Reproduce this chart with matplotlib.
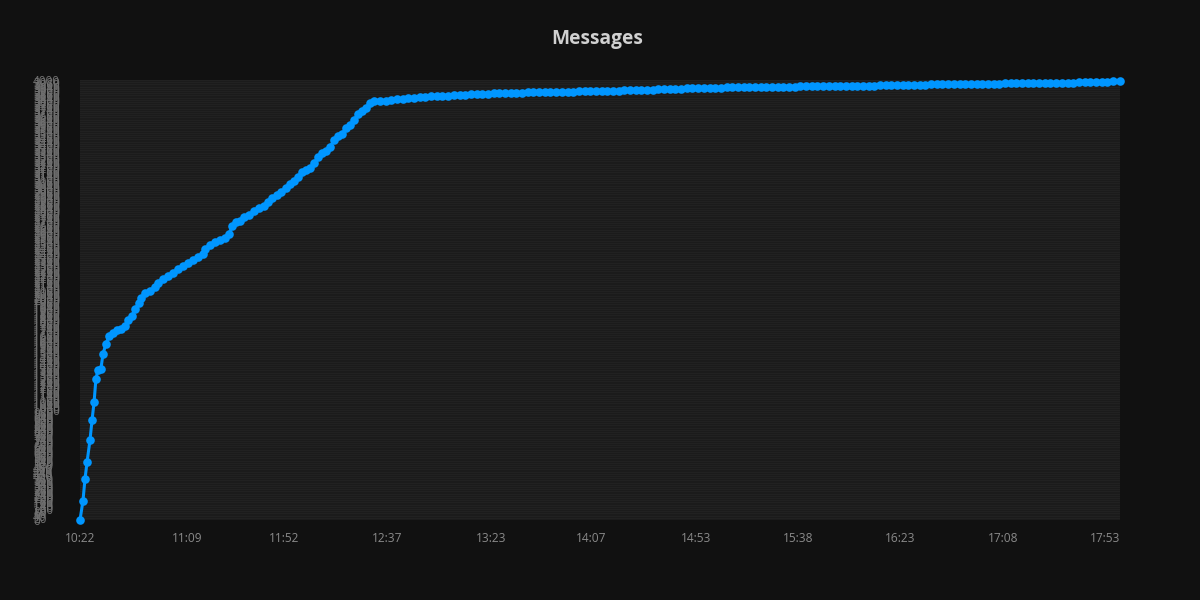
import matplotlib
matplotlib.use("Agg")
import matplotlib.pyplot as plt
import numpy as np

# elapsed minutes since 10:22 and cumulative message count
minutes = [
    0.0, 1.3, 2.2, 3.1, 4.4, 5.3, 6.2, 7.0, 7.9, 9.2, 10.1, 11.4, 12.8, 14.5, 16.3,
    18.0, 19.8, 21.1, 22.9, 24.2, 26.0, 26.8, 28.6, 30.8, 33.0, 34.3, 36.5, 38.7,
    40.9, 43.1, 45.3, 47.5, 49.7, 51.9, 54.1, 55.0, 57.2, 59.4, 61.6, 63.8, 65.6,
    66.9, 68.6, 70.4, 72.2, 74.4, 76.6, 78.8, 81.0, 82.7, 84.5, 86.7, 88.4, 90.6,
    92.4, 94.2, 95.9, 97.7, 99.4, 101.2, 103.0, 104.7, 106.5, 108.2, 110.0, 111.8,
    113.5, 115.3, 117.0, 118.8, 120.6, 122.3, 124.1, 125.8, 127.6, 129.4,
    132.0, 134.5, 137.0, 139.5, 142.0, 144.5, 147.0, 149.5, 152.0, 154.5, 157.0,
    159.5, 162.0, 164.5, 167.0, 169.5, 172.0, 174.5, 177.0, 179.5, 182.0, 184.5,
    187.0, 189.5, 192.0, 194.5, 197.0, 199.5, 202.0, 204.5, 207.0, 209.5, 212.0,
    214.5, 217.0, 219.5, 222.0, 224.5, 227.0, 229.5, 232.0, 234.5, 237.0, 239.5,
    242.0, 244.5, 247.0, 249.5, 252.0, 254.5, 257.0, 259.5, 262.0, 264.5, 267.0,
    269.5, 272.0, 274.5, 277.0, 279.5, 282.0, 284.5, 287.0, 289.5, 292.0, 294.5,
    297.0, 299.5, 302.0, 304.5, 307.0, 309.5, 312.0, 314.5, 317.0, 319.5, 322.0,
    324.5, 327.0, 329.5, 332.0, 334.5, 337.0, 339.5, 342.0, 344.5, 347.0, 349.5,
    352.0, 354.5, 357.0, 359.5, 362.0, 364.5, 367.0, 369.5, 372.0, 374.5, 377.0,
    379.5, 382.0, 384.5, 387.0, 389.5, 392.0, 394.5, 397.0, 399.5, 402.0, 404.5,
    407.0, 409.5, 412.0, 414.5, 417.0, 419.5, 422.0, 424.5, 427.0, 429.5, 432.0,
    434.5, 437.0, 439.5, 442.0, 444.5, 447.0, 449.5, 452.0, 454.5, 457.5,
]
messages = [
    0, 173, 373, 527, 727, 909, 1073, 1282, 1364, 1373, 1509, 1600, 1673, 1700, 1727,
    1736, 1764, 1818, 1855, 1918, 1973, 2018, 2064, 2082, 2118, 2155, 2191, 2218,
    2245, 2282, 2309, 2336, 2364, 2391, 2418, 2464, 2500, 2527, 2545, 2564, 2600,
    2673, 2709, 2718, 2755, 2773, 2809, 2836, 2855, 2891, 2927, 2955, 2982, 3018,
    3055, 3082, 3118, 3164, 3182, 3200, 3245, 3300, 3336, 3355, 3391, 3455,
    3491, 3509, 3564, 3591, 3636, 3691, 3718, 3745, 3791, 3809,
    3809, 3813, 3818, 3825, 3828, 3833, 3839, 3845, 3848, 3851, 3854,
    3856, 3859, 3861, 3864, 3866, 3869, 3872, 3874, 3877, 3879, 3882,
    3883, 3884, 3885, 3886, 3887, 3888, 3889, 3890, 3891, 3892, 3893,
    3894, 3895, 3896, 3897, 3898, 3899, 3900, 3902, 3903, 3904, 3906,
    3907, 3908, 3909, 3911, 3913, 3914, 3916, 3918, 3920, 3921, 3923,
    3925, 3927, 3928, 3929, 3930, 3931, 3932, 3933, 3934, 3935, 3936,
    3936, 3937, 3937, 3938, 3938, 3939, 3940, 3940, 3941, 3941, 3942,
    3942, 3943, 3943, 3944, 3944, 3945, 3945, 3946, 3947, 3949, 3950,
    3951, 3952, 3953, 3954, 3955, 3956, 3957, 3958, 3959, 3960, 3961,
    3962, 3964, 3964, 3965, 3965, 3966, 3966, 3967, 3967, 3968, 3968,
    3969, 3969, 3970, 3970, 3971, 3971, 3972, 3972, 3973, 3974, 3975,
    3976, 3977, 3978, 3979, 3980, 3981, 3982, 3984, 3987, 3991,
]

tick_labels = ["10:22", "11:09", "11:52", "12:37", "13:23", "14:07",
               "14:53", "15:38", "16:23", "17:08", "17:53"]
start_label = "10:22"
x_max = 457.6
y_max = 4000
y_tick_step = 20


def to_minutes(label):
    h, m = label.split(":")
    return int(h) * 60 + int(m)


tick_pos = [to_minutes(t) - to_minutes(start_label) for t in tick_labels]

BG = "#111111"
PLOT_BG = "#1b1b1b"
GRID = "#232323"
LINE = "#0096ff"

fig = plt.figure(figsize=(12, 6), dpi=100, facecolor=BG)
ax = fig.add_axes([80 / 1200, 80 / 600, 1040 / 1200, 440 / 600], facecolor=PLOT_BG)

yticks = np.arange(0, y_max + 1, y_tick_step)
ax.set_yticks(yticks)
ax.set_yticklabels([str(int(v)) for v in yticks])
ax.set_ylim(0, y_max)
ax.set_xlim(0, x_max)
ax.set_xticks(tick_pos)
ax.set_xticklabels(tick_labels)

ax.grid(axis="y", color=GRID, linewidth=0.6)
ax.set_axisbelow(True)
for s in ax.spines.values():
    s.set_visible(False)

ax.tick_params(axis="x", length=0, pad=9, labelsize=8.6, labelcolor="#8a8a8a")
ax.tick_params(axis="y", length=0, pad=33.8, labelsize=8.4, labelcolor="#707070")
for lab in ax.get_xticklabels() + ax.get_yticklabels():
    lab.set_fontfamily(["Open Sans", "DejaVu Sans"])
for lab in ax.get_yticklabels():
    lab.set_horizontalalignment("left")

ax.plot(minutes, messages, color=LINE, linewidth=2.2, marker="o",
        markersize=6.2, markeredgewidth=0, clip_on=False, zorder=3)

fig.text(597 / 1200, 1 - 39 / 600, "Messages", ha="center", va="center",
         fontsize=13.8, fontweight="bold", color="#d0d0d0",
         family=["Open Sans", "DejaVu Sans"])

fig.savefig("out.png", dpi=100, facecolor=BG)
